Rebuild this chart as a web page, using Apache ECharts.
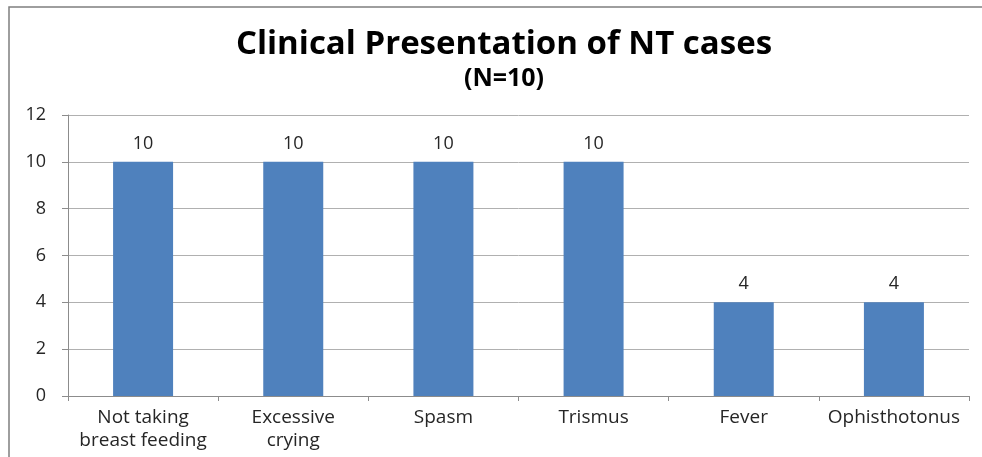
<!DOCTYPE html>
<html>
<head>
<meta charset="utf-8">
<script src="https://cdn.jsdelivr.net/npm/echarts@6/dist/echarts.min.js"></script>
<style>
  html, body { margin: 0; padding: 0; background: #fff; }
  #chart { width: 982px; height: 457px; }
</style>
</head>
<body>
<div id="chart"></div>
<script>
// categories and values
var categories = ['Not taking\nbreast feeding', 'Excessive\ncrying', 'Spasm', 'Trismus', 'Fever', 'Ophisthotonus'];
var cases = [10, 10, 10, 10, 4, 4];
var yTicks = [0, 2, 4, 6, 8, 10, 12];

var myChart = echarts.init(document.getElementById('chart'));
var option = {
    animation: false,
    backgroundColor: '#fff',
    title: [{
        text: 'Clinical Presentation of NT cases',
        left: 499, top: 23, textAlign: 'center',
        textStyle: { fontFamily: 'Open Sans', fontWeight: 'bold', fontSize: 33, color: '#000' }
    }, {
        text: '(N=10)',
        left: 499, top: 61, textAlign: 'center',
        textStyle: { fontFamily: 'Open Sans', fontWeight: 'bold', fontSize: 25, color: '#000' }
    }],
    // outer frame of the chart
    graphic: [{
        type: 'polyline',
        shape: { points: [[9, 457], [9, 7], [982, 7]] },
        style: { stroke: '#7f7f7f', lineWidth: 1.5, fill: null }
    }],
    grid: { left: 68, right: 13, top: 115, bottom: 61 },
    xAxis: {
        type: 'category',
        data: categories,
        axisLine: { lineStyle: { color: '#8c8c8c' } },
        axisTick: { show: true, length: 5, lineStyle: { color: '#8c8c8c' } },
        axisLabel: {
            fontFamily: 'Open Sans', fontSize: 19, color: '#262626',
            lineHeight: 23, margin: 10, interval: 0
        }
    },
    yAxis: {
        type: 'value',
        min: yTicks[0], max: yTicks[yTicks.length - 1], interval: 2,
        axisLine: { show: true, lineStyle: { color: '#8c8c8c' } },
        axisTick: { show: true, length: 6, lineStyle: { color: '#8c8c8c' } },
        axisLabel: { fontFamily: 'Open Sans', fontSize: 18, color: '#262626', margin: 22 },
        splitLine: { lineStyle: { color: '#b0b0b0' } }
    },
    series: [{
        type: 'bar',
        data: cases,
        barWidth: 60,
        itemStyle: { color: '#4f81bd' },
        label: {
            show: true, position: 'top', distance: 9,
            fontFamily: 'Open Sans', fontSize: 18, color: '#262626'
        }
    }]
};
myChart.setOption(option);
</script>
</body>
</html>
